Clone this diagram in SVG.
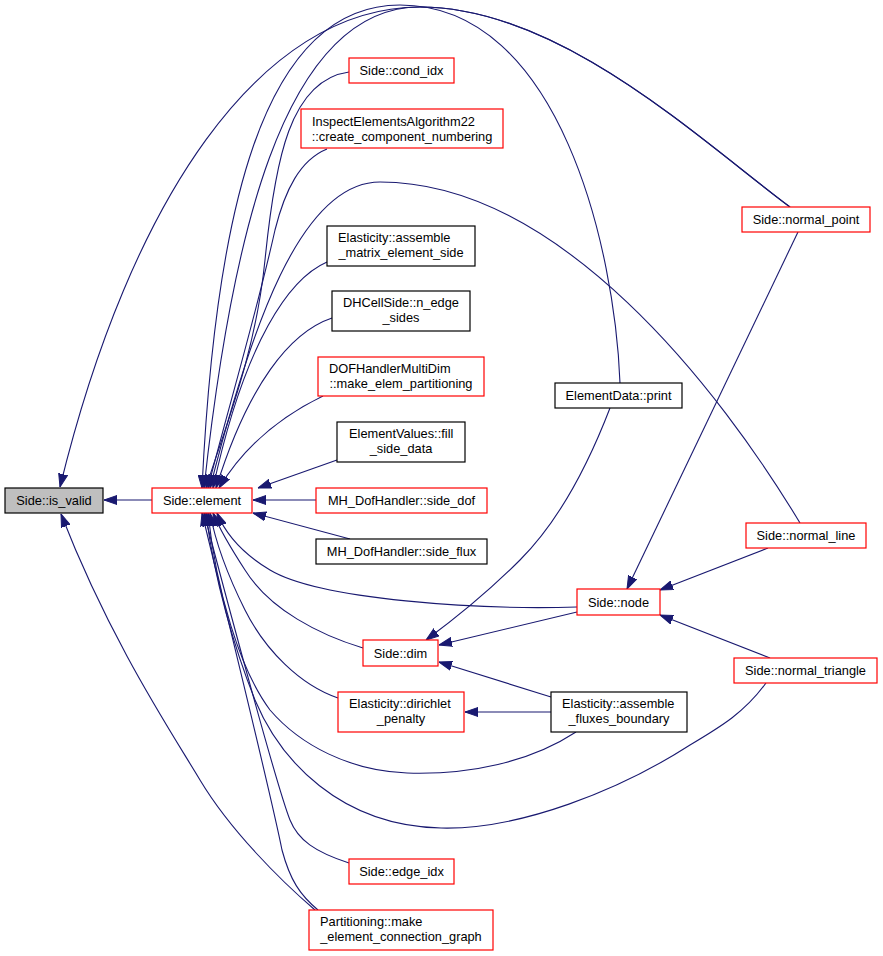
<svg xmlns="http://www.w3.org/2000/svg" width="883" height="956" viewBox="0 0 883 956">
<defs>
<marker id="arr" markerUnits="userSpaceOnUse" markerWidth="13" markerHeight="10" viewBox="0 0 13 10" refX="13" refY="5" orient="auto">
<path d="M0,0.5 L13,5 L0,9.5 z" fill="#191970" stroke="#191970" stroke-width="1"/>
</marker>
</defs>
<style>
.e{fill:none;stroke:#191970;stroke-width:1.1;marker-end:url(#arr)}
.r{fill:#ffffff;stroke:#ff0000;stroke-width:1.2}
.b{fill:#ffffff;stroke:#000000;stroke-width:1.2}
.g{fill:#bfbfbf;stroke:#000000;stroke-width:1.2}
text{font-family:"Liberation Sans",Arial,sans-serif;font-size:12.8px;fill:#000000}
.m{text-anchor:middle}
.s{text-anchor:start}
</style>
<rect x="0" y="0" width="883" height="956" fill="#ffffff"/>
<g id="edges">
<path class="e" d="M152,500 L104,500"/>
<path class="e" d="M790,207 C700,140 560,7 420,7 C260,7 130,200 60,487"/>
<path class="e" d="M790,207 C700,140 560,7 420,7 C280,7 230,250 204,488"/>
<path class="e" d="M620,383 C615,250 560,5 400,5 C260,5 215,220 202,488"/>
<path class="e" d="M349,72 C290,80 275,160 265,260 C255,360 220,440 206,488"/>
<path class="e" d="M327,149 C300,160 285,190 275,230 C255,320 222,430 208,488"/>
<path class="e" d="M800,523 C720,390 560,182 380,182 C300,182 250,330 210,488"/>
<path class="e" d="M327,262 C290,278 245,340 213,488"/>
<path class="e" d="M332,318 C290,332 248,385 216,488"/>
<path class="e" d="M323,396 C290,412 248,440 219,488"/>
<path class="e" d="M337,460 L258,488"/>
<path class="e" d="M316,500 L253,500"/>
<path class="e" d="M350,539 L253,513"/>
<path class="e" d="M577,607 C480,610 320,600 270,570 C245,555 226,535 217,513"/>
<path class="e" d="M363,648 C320,635 270,610 245,570 C232,550 220,530 213,513"/>
<path class="e" d="M338,698 C300,685 265,650 245,610 C230,580 216,545 210,513"/>
<path class="e" d="M576,732 C530,762 470,775 407,773 C350,771 300,745 270,710 C240,670 216,590 208,513"/>
<path class="e" d="M766,683 C745,712 722,726 690,745 C620,790 520,830 441,828 C340,826 280,760 255,700 C235,650 214,580 206,513"/>
<path class="e" d="M349,863 C315,852 298,840 290,820 C278,790 232,620 204,513"/>
<path class="e" d="M318,910 C300,895 290,880 282,850 C270,790 228,620 202,513"/>
<path class="e" d="M315,910 C280,880 230,830 200,780 C170,730 110,640 61,514"/>
<path class="e" d="M610,408 C590,460 560,520 520,560 C490,590 460,615 426,640"/>
<path class="e" d="M577,612 L439,645"/>
<path class="e" d="M551,697 L439,662"/>
<path class="e" d="M551,712 L465,712"/>
<path class="e" d="M798,232 L627,589"/>
<path class="e" d="M768,548 L660,590"/>
<path class="e" d="M770,658 L660,615"/>
</g>
<g id="node_is_valid"><rect class="g" x="5" y="488" width="98" height="25"/><text class="m" x="54" y="505">Side::is_valid</text></g>
<g id="node_element"><rect class="r" x="152" y="488" width="100" height="25"/><text class="m" x="202" y="505">Side::element</text></g>
<g id="node_cond_idx"><rect class="r" x="349" y="58" width="105" height="25"/><text class="m" x="401.5" y="75">Side::cond_idx</text></g>
<g id="node_inspect"><rect class="r" x="301" y="109" width="202" height="39"/><text class="s" x="312" y="126">InspectElementsAlgorithm22</text><text class="m" x="402" y="141">::create_component_numbering</text></g>
<g id="node_assemble_matrix"><rect class="b" x="327" y="226" width="148" height="40"/><text class="s" x="338" y="242">Elasticity::assemble</text><text class="m" x="401" y="257">_matrix_element_side</text></g>
<g id="node_dhcellside"><rect class="b" x="332" y="291" width="138" height="40"/><text class="s" x="343" y="307">DHCellSide::n_edge</text><text class="m" x="401" y="322">_sides</text></g>
<g id="node_dofhandler"><rect class="r" x="318" y="357" width="166" height="39"/><text class="s" x="329" y="373">DOFHandlerMultiDim</text><text class="m" x="401" y="388">::make_elem_partitioning</text></g>
<g id="node_elementvalues"><rect class="b" x="337" y="422" width="128" height="40"/><text class="s" x="349" y="438">ElementValues::fill</text><text class="m" x="401" y="453">_side_data</text></g>
<g id="node_side_dof"><rect class="r" x="316" y="488" width="171" height="25"/><text class="m" x="401.5" y="505">MH_DofHandler::side_dof</text></g>
<g id="node_side_flux"><rect class="b" x="316" y="539" width="171" height="25"/><text class="m" x="401.5" y="556">MH_DofHandler::side_flux</text></g>
<g id="node_dim"><rect class="r" x="363" y="640" width="75" height="26"/><text class="m" x="400.5" y="658">Side::dim</text></g>
<g id="node_dirichlet"><rect class="r" x="338" y="692" width="126" height="40"/><text class="s" x="349" y="708">Elasticity::dirichlet</text><text class="m" x="401" y="723">_penalty</text></g>
<g id="node_edge_idx"><rect class="r" x="349" y="859" width="105" height="25"/><text class="m" x="401.5" y="876">Side::edge_idx</text></g>
<g id="node_partitioning"><rect class="r" x="309" y="910" width="184" height="40"/><text class="s" x="320" y="926">Partitioning::make</text><text class="m" x="401" y="941">_element_connection_graph</text></g>
<g id="node_print"><rect class="b" x="555" y="383" width="127" height="25"/><text class="m" x="618.5" y="400">ElementData::print</text></g>
<g id="node_node"><rect class="r" x="577" y="589" width="83" height="26"/><text class="m" x="618.5" y="607">Side::node</text></g>
<g id="node_fluxes"><rect class="b" x="551" y="692" width="136" height="40"/><text class="s" x="562" y="708">Elasticity::assemble</text><text class="m" x="619" y="723">_fluxes_boundary</text></g>
<g id="node_normal_point"><rect class="r" x="742" y="207" width="128" height="25"/><text class="m" x="806" y="224">Side::normal_point</text></g>
<g id="node_normal_line"><rect class="r" x="746" y="523" width="120" height="25"/><text class="m" x="806" y="540">Side::normal_line</text></g>
<g id="node_normal_triangle"><rect class="r" x="734" y="658" width="143" height="25"/><text class="m" x="805.5" y="675">Side::normal_triangle</text></g>
</svg>
